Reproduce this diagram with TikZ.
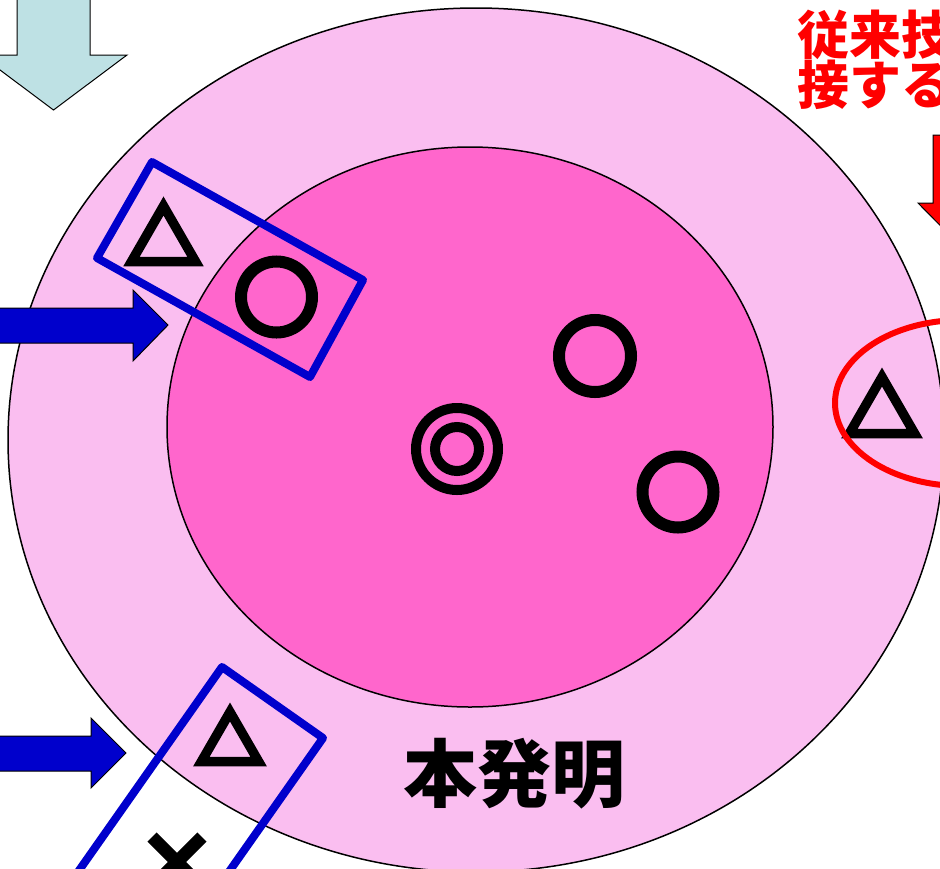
\documentclass[tikz,border=0pt]{standalone}
\usepackage{fontspec}
\newfontfamily\cjk{Noto Sans CJK JP}
\definecolor{outerpink}{RGB}{250,190,240}
\definecolor{innerpink}{RGB}{255,102,204}
\definecolor{arrowcyan}{RGB}{190,225,228}
\definecolor{arrowblue}{RGB}{0,0,204}
\definecolor{markred}{RGB}{255,0,0}
\tikzset{
  ring/.style={draw=black, line width=1.5pt},
  mark sym/.style={draw=black, line width=9.5pt, miter limit=10},
  circ sym/.style={draw=black, line width=12pt},
  blockarrow/.style={draw=black, line width=1pt},
  bluebox/.style={draw=arrowblue, line width=8pt, line join=round},
  redtext/.style={anchor=base west, inner sep=0pt, text=markred, font=\cjk\bfseries\fontsize{52}{52}\selectfont},
}
\begin{document}
\begin{tikzpicture}[x=1pt,y=-1pt]
\useasboundingbox (0,0) rectangle (940,868);
\clip (0,0) rectangle (940,868);
% outer and inner regions
\draw[ring, fill=outerpink] (476,440) ellipse [x radius=468, y radius=432];
\draw[ring, fill=innerpink] (470,427) ellipse [x radius=303, y radius=280];
% symbols
\draw[mark sym] (163.5,206) -- (131.5,261.5) -- (195.5,261.5) -- cycle;
\draw[mark sym] (230,712) -- (201.4,761.5) -- (258.6,761.5) -- cycle;
\draw[mark sym] (882,377) -- (849.4,433.5) -- (914.6,433.5) -- cycle;
\draw[circ sym] (276.5,297) circle [radius=35.5];
\draw[circ sym] (595,356) circle [radius=36];
\draw[circ sym] (678,492) circle [radius=35.5];
\draw[draw=black, line width=10pt] (457,449) circle [radius=41];
\draw[draw=black, line width=10pt] (457,449) circle [radius=22];
\draw[draw=black, line width=13pt] (152,837) -- (202,887);
\draw[draw=black, line width=13pt] (202,837) -- (152,887);
% blue boxes
\draw[bluebox] (152,162) -- (363,280) -- (310,377) -- (97,258) -- cycle;
\draw[bluebox] (222,667) -- (323,738) -- (174,950) -- (73,879) -- cycle;
% red ellipse
\draw[draw=markred, line width=6pt] (962,403) ellipse [x radius=127, y radius=83];
% block arrows
\draw[blockarrow, fill=arrowcyan] (17,-5) -- (90,-5) -- (90,55) -- (127,55) -- (53.5,110) -- (-20,55) -- (17,55) -- cycle;
\draw[blockarrow, fill=arrowblue] (-5,308) -- (133,308) -- (133,290) -- (168,325) -- (133,361) -- (133,343) -- (-5,343) -- cycle;
\draw[blockarrow, fill=arrowblue] (-5,736) -- (91,736) -- (91,718) -- (126,753) -- (91,788) -- (91,771) -- (-5,771) -- cycle;
\draw[blockarrow, fill=markred] (933,135) -- (978,135) -- (978,203) -- (993,203) -- (955.5,241) -- (918,203) -- (933,203) -- cycle;
% texts
\node[redtext] (t1) at (797,54) {従来技術};
\node[redtext] (t2) at (797,104) {接する};
\node[inner sep=0pt, font=\cjk\bfseries\fontsize{74}{74}\selectfont] (t3) at (514.5,773.5) {本発明};
\end{tikzpicture}
\end{document}
